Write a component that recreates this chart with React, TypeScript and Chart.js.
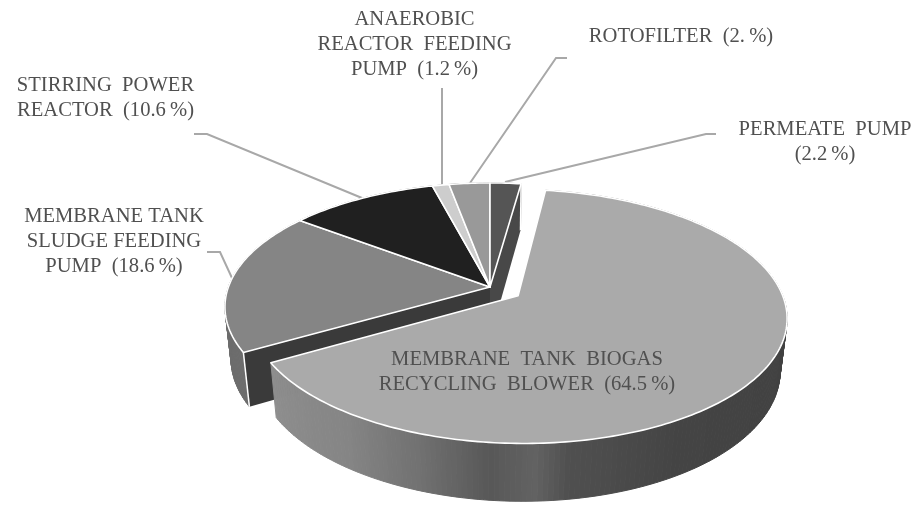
import React, { useEffect, useRef } from "react";
import { Chart, registerables } from "chart.js";

Chart.register(...registerables);

const categories = [
  "Permeate pump",
  "Membrane tank biogas recycling blower",
  "Membrane tank sludge feeding pump",
  "Stirring power reactor",
  "Anaerobic reactor feeding pump",
  "Rotofilter",
];
const shares = [2.2, 64.5, 18.6, 10.6, 1.2, 2.9];
const topColors = ["#555555", "#aaaaaa", "#858585", "#202020", "#cdcdcd", "#999999"];
const explode = [0, 0.128, 0, 0, 0, 0];

const labelLines: string[][] = [
  ["PERMEATE  PUMP", "(2.2\u2009%)"],
  ["MEMBRANE  TANK  BIOGAS", "RECYCLING  BLOWER  (64.5\u2009%)"],
  ["MEMBRANE TANK", "SLUDGE FEEDING", "PUMP  (18.6\u2009%)"],
  ["STIRRING  POWER", "REACTOR  (10.6\u2009%)"],
  ["ANAEROBIC", "REACTOR  FEEDING", "PUMP  (1.2\u2009%)"],
  ["ROTOFILTER  (2.\u2009%)"],
];
const labelCenters = [
  [825, 130],
  [527, 360],
  [114, 217],
  [105.5, 86],
  [414.5, 20],
  [681, 37],
];
const leaders = [
  [[716, 134], [706, 134], [505, 182]],
  [],
  [[207, 252], [220, 252], [232, 278]],
  [[194, 134], [207, 134], [362, 198]],
  [[442, 88], [442, 185]],
  [[567, 58], [556, 58], [470, 183]],
];

// perspective of the pie disc
const CX = 490, CY = 287, RX = 261.6, RY = 120.8, K = 0.161, DM = 0.023, DN = 52.8;

function project(u: number, v: number, h: number): [number, number] {
  const w = 1 - K * v + DM * h;
  return [CX + (RX * u) / w, CY + (RY * v + DN * h) / w];
}

// wall grey by clockwise angle from the top (degrees)
const blowerWallStops = [[60, 0x40], [90, 0x40], [150, 0x44], [172, 0x50], [178, 0x62], [186, 0x58], [200, 0x72], [215, 0x85], [240, 0x8e]];
function wallGrey(deg: number, idx: number) {
  if (idx === 2) return 0x6c;
  if (idx !== 1) return 0x44;
  for (let i = 1; i < blowerWallStops.length; i++) {
    const [a0, g0] = blowerWallStops[i - 1];
    const [a1, g1] = blowerWallStops[i];
    if (deg <= a1) {
      const t = Math.max(0, (deg - a0) / (a1 - a0));
      return g0 + (g1 - g0) * t;
    }
  }
  return 0x8e;
}

function drawSlice(ctx: CanvasRenderingContext2D, idx: number, startAngle: number, endAngle: number) {
  const a0 = startAngle + Math.PI / 2;
  const a1 = endAngle + Math.PI / 2;
  const mid = (a0 + a1) / 2;
  const eu = explode[idx] * Math.sin(mid);
  const ev = -explode[idx] * Math.cos(mid);
  const pt = (a: number, h: number) => project(eu + Math.sin(a), ev - Math.cos(a), h);
  const apex = (h: number) => project(eu, ev, h);
  const n = Math.max(4, Math.ceil(((a1 - a0) * 180) / Math.PI));

  // outer wall, back to front
  const segs: { a: number; b: number }[] = [];
  for (let i = 0; i < n; i++) segs.push({ a: a0 + ((a1 - a0) * i) / n, b: a0 + ((a1 - a0) * (i + 1)) / n });
  segs.sort((s, t) => -Math.cos(s.a) - -Math.cos(t.a));
  for (const s of segs) {
    const g = Math.round(wallGrey((((s.a + s.b) / 2) * 180) / Math.PI, idx));
    const col = `rgb(${g},${g},${g})`;
    ctx.beginPath();
    [pt(s.a, 0), pt(s.b, 0), pt(s.b, 1), pt(s.a, 1)].forEach((p, i) => (i === 0 ? ctx.moveTo(p[0], p[1]) : ctx.lineTo(p[0], p[1])));
    ctx.closePath();
    ctx.fillStyle = col;
    ctx.fill();
    ctx.strokeStyle = col;
    ctx.lineWidth = 1;
    ctx.stroke();
  }
  // visible cut faces
  if (idx === 0 || idx === 2) {
    const a = idx === 0 ? a1 : a0;
    const q = [apex(0), pt(a, 0), pt(a, 1), apex(1)];
    ctx.beginPath();
    q.forEach((p, i) => (i === 0 ? ctx.moveTo(p[0], p[1]) : ctx.lineTo(p[0], p[1])));
    ctx.closePath();
    ctx.fillStyle = idx === 0 ? "#484848" : "#3a3a3a";
    ctx.fill();
    ctx.strokeStyle = "#ffffff";
    ctx.lineWidth = 1.5;
    ctx.beginPath();
    ctx.moveTo(q[1][0], q[1][1]);
    ctx.lineTo(q[2][0], q[2][1]);
    ctx.stroke();
  }
}

function drawTop(ctx: CanvasRenderingContext2D, idx: number, startAngle: number, endAngle: number) {
  const a0 = startAngle + Math.PI / 2;
  const a1 = endAngle + Math.PI / 2;
  const mid = (a0 + a1) / 2;
  const eu = explode[idx] * Math.sin(mid);
  const ev = -explode[idx] * Math.cos(mid);
  const n = Math.max(6, Math.ceil(((a1 - a0) * 180) / Math.PI));
  ctx.beginPath();
  const c = project(eu, ev, 0);
  ctx.moveTo(c[0], c[1]);
  for (let i = 0; i <= n; i++) {
    const a = a0 + ((a1 - a0) * i) / n;
    const p = project(eu + Math.sin(a), ev - Math.cos(a), 0);
    ctx.lineTo(p[0], p[1]);
  }
  ctx.closePath();
  ctx.fillStyle = topColors[idx];
  ctx.fill();
  ctx.strokeStyle = "#ffffff";
  ctx.lineWidth = 1.6;
  ctx.lineJoin = "round";
  ctx.stroke();
}

const pie3d = {
  id: "pie3d",
  beforeDatasetsDraw(chart: any) {
    const ctx: CanvasRenderingContext2D = chart.ctx;
    const arcs = chart.getDatasetMeta(0).data;
    ctx.save();
    ctx.strokeStyle = "#a8a8a8";
    ctx.lineWidth = 2;
    leaders.forEach((l) => {
      if (!l.length) return;
      ctx.beginPath();
      l.forEach((p, i) => (i === 0 ? ctx.moveTo(p[0], p[1]) : ctx.lineTo(p[0], p[1])));
      ctx.stroke();
    });
    const order = [2, 3, 4, 5, 0];
    for (const i of order) drawSlice(ctx, i, arcs[i].startAngle, arcs[i].endAngle);
    for (const i of order) drawTop(ctx, i, arcs[i].startAngle, arcs[i].endAngle);
    drawSlice(ctx, 1, arcs[1].startAngle, arcs[1].endAngle);
    drawTop(ctx, 1, arcs[1].startAngle, arcs[1].endAngle);

    ctx.fillStyle = "#505050";
    ctx.font = '20.6px "Liberation Serif"';
    ctx.textAlign = "center";
    ctx.textBaseline = "middle";
    labelLines.forEach((lines, i) => {
      lines.forEach((t, j) => {
        ctx.fillText(t, labelCenters[i][0], labelCenters[i][1] + j * 24.8);
      });
    });
    ctx.restore();
    return false;
  },
};

export default function App() {
  const ref = useRef<HTMLCanvasElement>(null);
  useEffect(() => {
    const chart = new Chart(ref.current as HTMLCanvasElement, {
      type: "pie",
      data: {
        labels: categories,
        datasets: [{ data: shares, backgroundColor: topColors, borderColor: "#ffffff" }],
      },
      options: {
        responsive: false,
        animation: false,
        plugins: { legend: { display: false }, tooltip: { enabled: false } },
      },
      plugins: [pie3d],
    } as any);
    return () => chart.destroy();
  }, []);
  return (
    <div style={{ position: "fixed", left: 0, top: 0, width: 917, height: 506, background: "#fff" }}>
      <canvas ref={ref} width={917} height={506} style={{ display: "block" }} />
    </div>
  );
}
